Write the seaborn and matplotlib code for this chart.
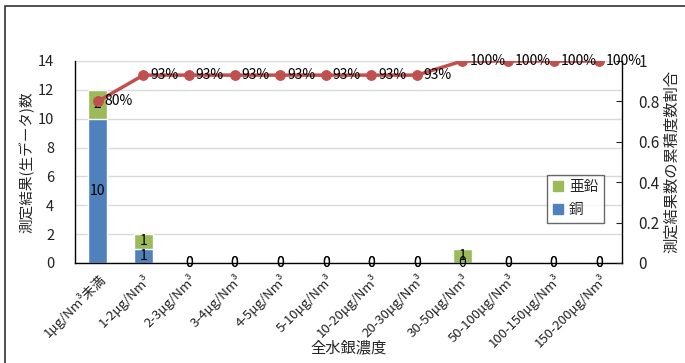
import numpy as np
import pandas as pd
import matplotlib
matplotlib.use("Agg")
import matplotlib.pyplot as plt
import seaborn as sns
from matplotlib.patches import Rectangle, Patch

categories = ["1μg/Nm³未満", "1-2μg/Nm³", "2-3μg/Nm³", "3-4μg/Nm³", "4-5μg/Nm³",
              "5-10μg/Nm³", "10-20μg/Nm³", "20-30μg/Nm³", "30-50μg/Nm³",
              "50-100μg/Nm³", "100-150μg/Nm³", "150-200μg/Nm³"]
copper = [10, 1, 0, 0, 0, 0, 0, 0, 0, 0, 0, 0]
zinc = [2, 1, 0, 0, 0, 0, 0, 0, 1, 0, 0, 0]
cum_ratio = [0.80, 0.93, 0.93, 0.93, 0.93, 0.93, 0.93, 0.93, 1.00, 1.00, 1.00, 1.00]
cum_labels = ["80%", "93%", "93%", "93%", "93%", "93%", "93%", "93%",
              "100%", "100%", "100%", "100%"]

blue = "#4F81BD"
green = "#9BBB59"
red = "#C0504D"

sns.set_style("white")
plt.rcParams['font.family'] = ['Noto Sans CJK JP', 'DejaVu Sans']

df = pd.DataFrame({"cat": categories, "copper": copper, "zinc": zinc})
df["total"] = df["copper"] + df["zinc"]

fig = plt.figure(figsize=(6.85, 3.63), dpi=100)
ax = fig.add_axes([0.1095, 0.2755, 0.7985, 0.5565])

# stacked bars: total (green) behind, copper (blue) in front
sns.barplot(data=df, x="cat", y="total", color=green, saturation=1, width=0.42, ax=ax)
sns.barplot(data=df, x="cat", y="copper", color=blue, saturation=1, width=0.42, ax=ax)

ax.set_ylim(0, 14)
ax.set_yticks(range(0, 15, 2))
ax.set_xlim(-0.5, len(categories) - 0.5)
ax.yaxis.grid(True, color="#d9d9d9", lw=1)
ax.set_axisbelow(True)
for s in ["left", "bottom", "right"]:
    ax.spines[s].set_color("black")
    ax.spines[s].set_linewidth(1)
ax.spines["top"].set_visible(False)
ax.tick_params(axis="y", labelsize=10.5, length=0, pad=15, colors="#222222")
ax.set_xticks(np.arange(-0.5, len(categories), 1), minor=True)
ax.tick_params(axis="x", which="minor", direction="in", length=4, color="#444444")
ax.tick_params(axis="x", which="major", length=0, labelsize=9.5, colors="#222222", pad=6)
ax.set_xticklabels(categories, rotation=45, ha="right", rotation_mode="anchor")
ax.set_xlabel("全水銀濃度", fontsize=11, labelpad=-8)
ax.set_ylabel("測定結果(生データ)数", fontsize=10.5, labelpad=2)

# bar value labels
for i, (c, z) in enumerate(zip(copper, zinc)):
    ax.text(i, c / 2, str(c), ha="center", va="center", fontsize=10, color="black")
    ax.text(i, c + z / 2, str(z), ha="center", va="center", fontsize=10, color="black")

# cumulative ratio line on the secondary axis
ax2 = ax.twinx()
sns.lineplot(x=np.arange(len(categories)), y=cum_ratio, color=red, lw=2.5,
             marker="o", markersize=7, markeredgecolor=red, ax=ax2)
ax2.set_ylim(0, 1)
ax2.set_yticks(np.arange(0, 1.01, 0.2))
ax2.set_yticklabels(["0", "0.2", "0.4", "0.6", "0.8", "1"])
ax2.tick_params(axis="y", direction="in", length=4, labelsize=11, pad=12, colors="#222222")
for s in ax2.spines.values():
    s.set_visible(False)
ax2.set_ylabel("測定結果数の累積度数割合", fontsize=11, labelpad=2)
for i, (v, lab) in enumerate(zip(cum_ratio, cum_labels)):
    ax2.text(i + 0.15, v, lab, ha="left", va="center", fontsize=10, color="black")

handles = [Patch(color=green, label="亜鉛"), Patch(color=blue, label="銅")]
leg = ax.legend(handles=handles, loc="lower left", bbox_to_anchor=(0.863, 0.198),
                fontsize=10.5, frameon=True, fancybox=False, handlelength=0.7,
                handleheight=0.7, borderpad=0.4, labelspacing=0.6, handletextpad=0.4,
                borderaxespad=0)
leg.get_frame().set_edgecolor("#444444")
leg.get_frame().set_linewidth(1)

fig.patches.append(Rectangle((5 / 685, -0.1), 1.2, (363 - 6) / 363 + 0.1,
                             transform=fig.transFigure, fill=False,
                             edgecolor="#333333", lw=1.2))

fig.savefig("out.png", dpi=100)
